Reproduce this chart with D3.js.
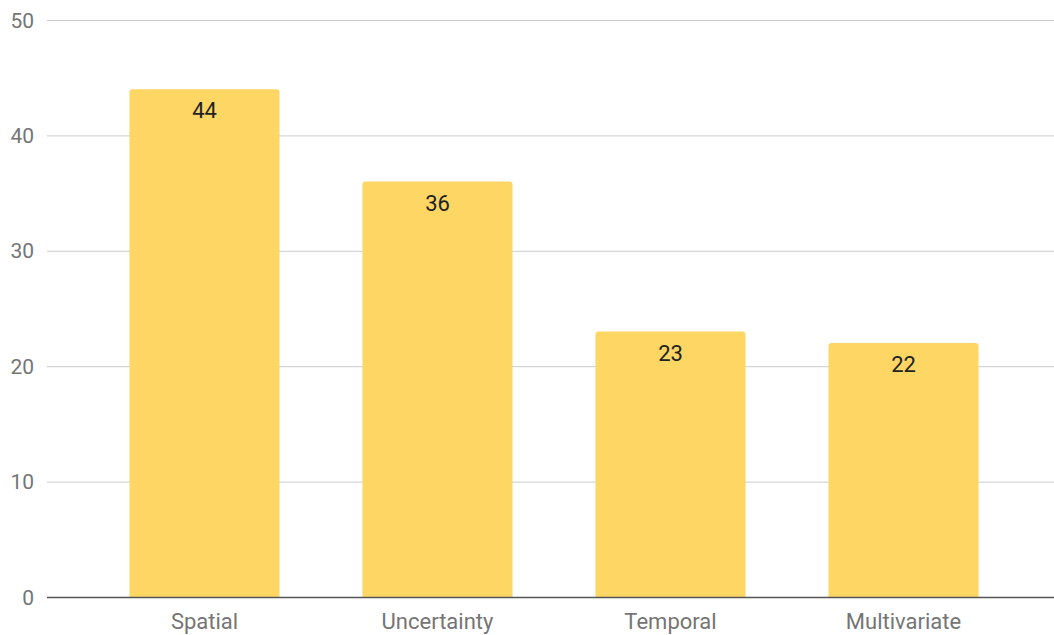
<!DOCTYPE html>
<html><head><meta charset="utf-8">
<script src="https://cdn.jsdelivr.net/npm/d3@7"></script>
<style>body{margin:0;background:#fff}svg{display:block}</style>
</head><body>
<svg id="c" width="1054" height="635"></svg>
<script>
const categories = ["Spatial", "Uncertainty", "Temporal", "Multivariate"];
const values = [44, 36, 23, 22];
const yTicks = [0, 10, 20, 30, 40, 50];

const svg = d3.select("#c");
const x = d3.scaleBand().domain(categories).range([88, 1020]).paddingInner(0.356).paddingOuter(0.178);
const y = d3.scaleLinear().domain([0, 50]).range([597, 20]);
const font = "Roboto, 'Noto Sans', sans-serif";

// gridlines
svg.append("g").selectAll("line").data(yTicks.filter(d => d !== 0)).join("line")
  .attr("x1", 47).attr("x2", 1054)
  .attr("y1", d => y(d) + 0.5).attr("y2", d => y(d) + 0.5)
  .attr("stroke", "#cccccc").attr("stroke-width", 1);

// y labels
svg.append("g").selectAll("text").data(yTicks).join("text")
  .attr("x", 34).attr("y", d => y(d)).attr("dy", "0.36em")
  .attr("text-anchor", "end").attr("font-family", font).attr("font-size", 21)
  .attr("fill", "#757575").text(d => d);

// bars with rounded top corners
const r = 3;
svg.append("g").selectAll("path").data(categories).join("path")
  .attr("fill", "#fdd663")
  .attr("d", (c, i) => {
    const x0 = x(c), x1 = x(c) + x.bandwidth(), t = y(values[i]), b = y(0);
    return `M${x0},${b}V${t + r}Q${x0},${t} ${x0 + r},${t}H${x1 - r}Q${x1},${t} ${x1},${t + r}V${b}Z`;
  });

// value labels
svg.append("g").selectAll("text").data(categories).join("text")
  .attr("x", c => x(c) + x.bandwidth() / 2)
  .attr("y", (c, i) => y(values[i]) + 29)
  .attr("text-anchor", "middle").attr("font-family", font).attr("font-size", 22)
  .attr("fill", "#222222").text((c, i) => values[i]);

// baseline
svg.append("line").attr("x1", 47).attr("x2", 1054)
  .attr("y1", y(0) + 0.5).attr("y2", y(0) + 0.5)
  .attr("stroke", "#555555").attr("stroke-width", 1.5);

// category labels
svg.append("g").selectAll("text").data(categories).join("text")
  .attr("x", c => x(c) + x.bandwidth() / 2).attr("y", 629)
  .attr("text-anchor", "middle").attr("font-family", font).attr("font-size", 22)
  .attr("fill", "#757575").text(c => c);
</script>
</body></html>
